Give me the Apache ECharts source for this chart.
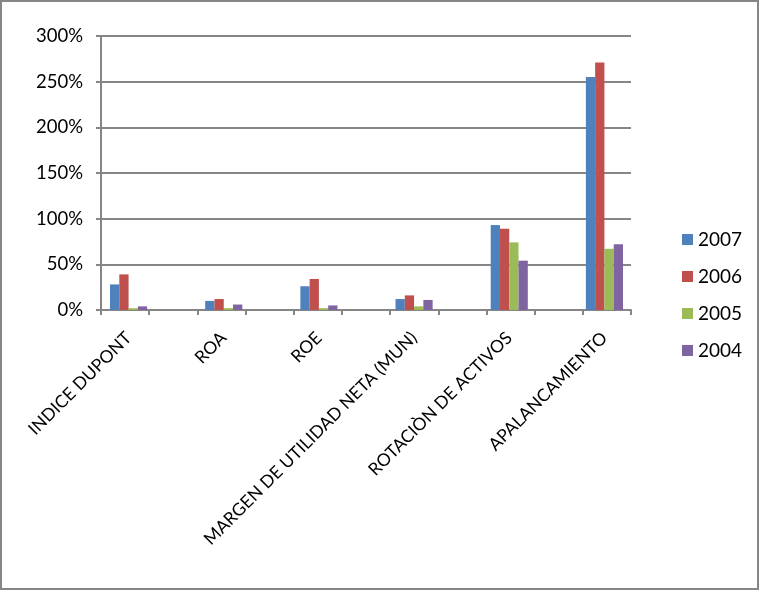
<!DOCTYPE html>
<html><head><meta charset="utf-8">
<script src="https://cdn.jsdelivr.net/npm/echarts@6/dist/echarts.min.js"></script>
<style>html,body{margin:0;padding:0;background:#fff}#c{width:759px;height:590px}</style>
</head><body><div id="c"></div>
<script>
const categories = ['INDICE DUPONT','ROA','ROE','MARGEN DE UTILIDAD NETA (MUN)','ROTACIÒN DE ACTIVOS','APALANCAMIENTO'];
const years = ['2007','2006','2005','2004'];
const s2007 = [0.28, 0.10, 0.26, 0.12, 0.93, 2.55];
const s2006 = [0.39, 0.12, 0.34, 0.16, 0.89, 2.71];
const s2005 = [0.02, 0.02, 0.02, 0.04, 0.74, 0.67];
const s2004 = [0.04, 0.06, 0.05, 0.11, 0.54, 0.72];
const yTicks = [0, 0.5, 1, 1.5, 2, 2.5, 3];
const colors = ['#4F81BD','#C0504D','#9BBB59','#8064A2'];
const font = 'Lato, "Open Sans", sans-serif';

const chart = echarts.init(document.getElementById('c'));
const seriesData = [s2007, s2006, s2005, s2004];
chart.setOption({
  animation: false,
  color: colors,
  graphic: [{type:'rect', shape:{x:1,y:1,width:757,height:588}, style:{fill:'none', stroke:'#868686', lineWidth:2}}],
  legend: {
    orient: 'vertical', left: 677, top: 225, itemWidth: 11, itemHeight: 11, itemGap: 18,
    icon: 'rect', data: years,
    textStyle: {fontFamily: font, fontSize: 19, color: '#000'}
  },
  grid: [
    {left: 101, top: 36, width: 530, height: 274},
    {left: 81, top: 36, width: 571, height: 274}
  ],
  xAxis: [
    {type: 'value', gridIndex: 0, min: 0, max: 11, interval: 1,
     axisLine: {show: true, lineStyle: {color: '#868686', width: 2}},
     axisTick: {show: true, length: 5, lineStyle: {color: '#868686', width: 2}},
     axisLabel: {show: false}, splitLine: {show: false}},
    {type: 'category', gridIndex: 1, data: categories,
     axisLine: {show: false}, axisTick: {show: false},
     axisLabel: {rotate: 45, interval: 0, margin: 25, fontFamily: font, fontSize: 17.5, color: '#000'}}
  ],
  yAxis: [
    {type: 'value', gridIndex: 0, min: 0, max: 3, interval: 0.5,
     axisLine: {show: true, lineStyle: {color: '#868686', width: 2}},
     axisTick: {show: true, length: 5, lineStyle: {color: '#868686', width: 2}},
     splitLine: {show: true, lineStyle: {color: '#868686', width: 2}},
     axisLabel: {margin: 18, fontFamily: font, fontSize: 18.5, color: '#000',
       formatter: v => Math.round(v*100) + '%'}},
    {type: 'value', gridIndex: 1, min: 0, max: 3, interval: 0.5, show: false}
  ],
  series: years.map((y, i) => ({
    name: y, type: 'bar', xAxisIndex: 1, yAxisIndex: 1,
    data: seriesData[i], barGap: '0%', barCategoryGap: '61%',
    itemStyle: {color: colors[i]}
  })).concat([{type:'line', xAxisIndex:0, yAxisIndex:0, data:[], silent:true}])
});
</script></body></html>
